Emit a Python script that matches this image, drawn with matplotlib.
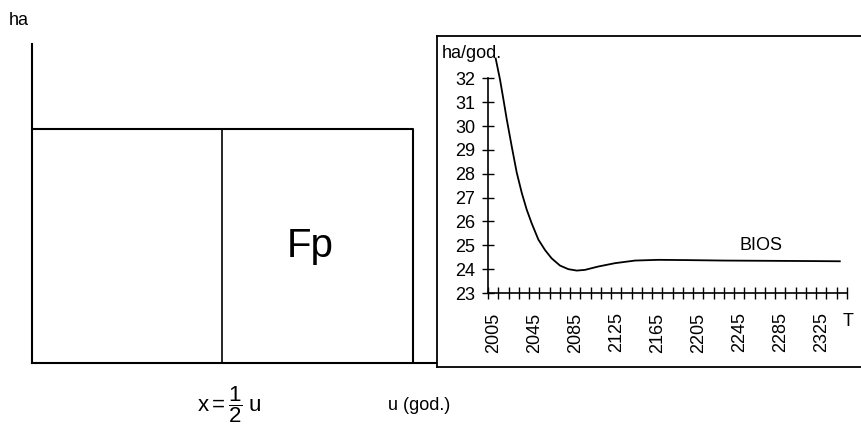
import numpy as np
import matplotlib.pyplot as plt
from matplotlib.lines import Line2D

plt.rcParams['font.family'] = ['Liberation Sans', 'DejaVu Sans']
plt.rcParams['mathtext.fontset'] = 'custom'
plt.rcParams['mathtext.rm'] = 'Liberation Sans'
plt.rcParams['mathtext.it'] = 'Liberation Sans'

# left schematic: area u x ha, split at x = u/2
u_total = 1.0
x_split = 0.5 * u_total
rect_h = 1.0

# right chart: BIOS footprint per year
years = [2007.5, 2011.7, 2014.9, 2018.2, 2023.1, 2028, 2032.9, 2037.7, 2042.6,
         2049.1, 2055.6, 2062.1, 2070.2, 2078.3, 2086.5, 2094.6, 2107.5,
         2123.8, 2143.3, 2166, 2192, 2230, 2270, 2310, 2343]
bios = [32.83, 31.95, 31.15, 30.3, 29.15, 28.05, 27.2, 26.5, 25.92, 25.24,
        24.8, 24.45, 24.15, 24.0, 23.94, 23.97, 24.11, 24.25, 24.36, 24.39,
        24.38, 24.36, 24.35, 24.34, 24.33]
year_ticks = list(range(2000, 2351, 10))
year_labels = list(range(2005, 2326, 40))
y_ticks = list(range(23, 33))

W, H = 862, 426
fig = plt.figure(figsize=(W / 100, H / 100), dpi=100)


def fx(px):
    return px / W


def fy(py):
    return 1 - py / H


# ---- left panel
ax1 = fig.add_axes([fx(32), fy(363), fx(436 - 32), (363 - 44) / H])
ax1.set_xlim(0, u_total * (436 - 32) / (413 - 32))
ax1.set_ylim(0, rect_h * (363 - 44) / (363 - 129))
for s in ['top', 'right']:
    ax1.spines[s].set_visible(False)
for s in ['left', 'bottom']:
    ax1.spines[s].set_linewidth(1.5)
ax1.set_xticks([])
ax1.set_yticks([])
ax1.plot([0, u_total, u_total], [rect_h, rect_h, 0], color='black', lw=1.5)
ax1.plot([x_split, x_split], [0, rect_h], color='black', lw=1.2)
ax1.text(0.73 * u_total, 0.5 * rect_h, 'Fp', fontsize=29, ha='center', va='center')

fig.text(fx(9), fy(25), 'ha', fontsize=13, ha='left', va='baseline')
fig.text(fx(197), fy(405), r'$\mathrm{x} = \dfrac{1}{2}\;\mathrm{u}$', fontsize=16,
         ha='left', va='center')
fig.text(fx(388), fy(405), 'u (god.)', fontsize=13, ha='left', va='center')

# ---- right panel frame
fl = dict(color='black', lw=1.3, transform=fig.transFigure)
fig.add_artist(Line2D([fx(437), fx(437)], [fy(36), fy(367)], **fl))
fig.add_artist(Line2D([fx(437), fx(862)], [fy(36), fy(36)], **fl))
fig.add_artist(Line2D([fx(437), fx(862)], [fy(367), fy(367)], **fl))

ax2 = fig.add_axes([fx(488), fy(293), fx(847 - 488), (293 - 78.3) / H])
ax2.set_xlim(2000, 2350)
ax2.set_ylim(23, 32)
for s in ['top', 'right']:
    ax2.spines[s].set_visible(False)
for s in ['left', 'bottom']:
    ax2.spines[s].set_linewidth(1.2)
ax2.patch.set_alpha(0)
ax2.plot(years, bios, color='black', lw=1.3, clip_on=False)

ax2.set_yticks(y_ticks)
ax2.tick_params(axis='y', direction='inout', length=8, width=1, pad=5, labelsize=13)
ax2.set_xticks(year_ticks, minor=True)
ax2.set_xticks(year_labels)
ax2.set_xticklabels([str(y) for y in year_labels], rotation=90, va='top')
ax2.tick_params(axis='x', which='minor', direction='inout', length=8, width=1)
ax2.tick_params(axis='x', which='major', length=0, pad=14, labelsize=13)

ax2.text(2266, 24.65, 'BIOS', fontsize=13, ha='center', va='bottom')
fig.text(fx(442), fy(58), 'ha/god.', fontsize=13, ha='left', va='baseline')
fig.text(fx(848), fy(321), 'T', fontsize=13, ha='center', va='center')

fig.savefig('out.png', dpi=100)
